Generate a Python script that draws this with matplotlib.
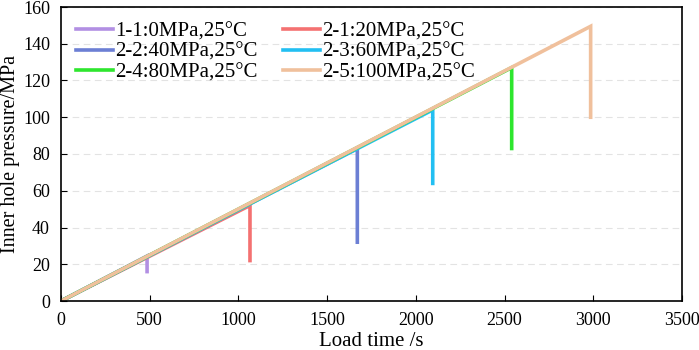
import matplotlib
matplotlib.use("Agg")
import matplotlib.pyplot as plt

plt.rcParams["font.family"] = ["Liberation Serif", "DejaVu Serif"]

# -------------------------
# Data
# -------------------------

labels = [
    "1-1:0MPa,25°C",
    "2-1:20MPa,25°C",
    "2-2:40MPa,25°C",
    "2-3:60MPa,25°C",
    "2-4:80MPa,25°C",
    "2-5:100MPa,25°C",
]
colors = ["#b28fe3", "#f47171", "#6c7fd4", "#22bff2", "#2ee62e", "#f0c09c"]

peak_time = [485, 1065, 1670, 2095, 2540, 2985]
peak_pressure = [24.5, 52, 83, 104, 127, 149.5]
end_pressure = [16, 22, 32, 64, 83, 100]

# -------------------------
# Plot
# -------------------------

fig = plt.figure(figsize=(6.99, 3.5), dpi=100)
ax = fig.add_axes([0.0873, 0.14, 0.8884, 0.84])

lines = []
for i in range(len(labels)):
    t = [0, peak_time[i], peak_time[i]]
    p = [0, peak_pressure[i], end_pressure[i]]
    ln, = ax.plot(t, p, color=colors[i], linewidth=2.6, label=labels[i],
                  solid_joinstyle="miter")
    lines.append(ln)

ax.set_xlim(0, 3500)
ax.set_ylim(0, 160)
ax.set_xticks(range(0, 3501, 500))
ax.set_yticks(range(0, 161, 20))
ax.yaxis.grid(True, color="#e3e3e3", linestyle=(0, (6, 4)), linewidth=0.8)
ax.set_axisbelow(True)

ax.tick_params(direction="in", labelsize=13, length=4, pad=8)
ax.set_xlabel("Load time /s", fontsize=15, labelpad=2)
ax.set_ylabel("Inner hole pressure/MPa", fontsize=14.5, labelpad=2)

for s in ax.spines.values():
    s.set_linewidth(1.2)

# legend filled row by row (matplotlib fills columns first)
order = [0, 2, 4, 1, 3, 5]
ax.legend([lines[k] for k in order], [labels[k] for k in order],
          ncol=2, loc="upper left", frameon=False, fontsize=15,
          handlelength=1.8, handletextpad=0.1, columnspacing=1.2,
          labelspacing=0.05, borderaxespad=0.3,
          bbox_to_anchor=(0.0, 1.0))

fig.savefig("out.png", dpi=100)
